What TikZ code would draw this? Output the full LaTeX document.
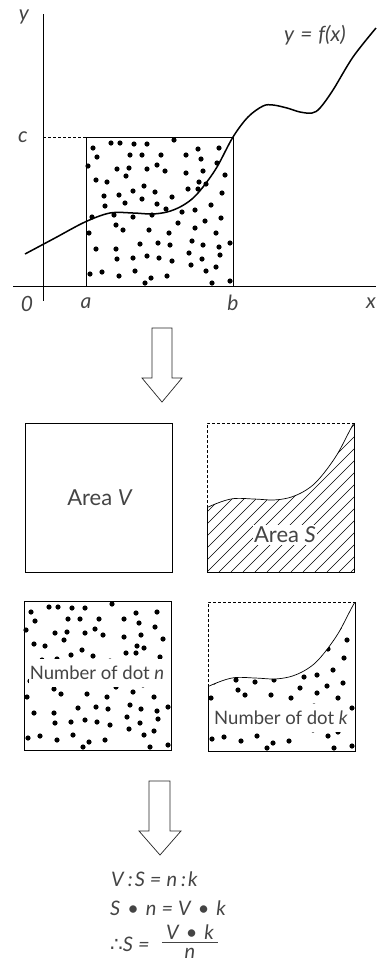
\documentclass[tikz,border=0pt]{standalone}
\usepackage{fontspec}
\setmainfont{Lato}
\newfontfamily\dvfont{DejaVu Sans}
\definecolor{txt}{HTML}{444444}
\newcommand\mycurve{plot[smooth,tension=0.55] coordinates {(25,254) (55,238) (85,222) (110,213) (133,213) (152,214) (167,212) (180,207) (192,199) (203,187) (217,167) (233,137) (248,117) (263,106) (273,105) (287,108) (300,112) (312,113) (320,108) (333,90) (353,57) (376,28)}}
\newcommand\dotlist{(93,148),(111,143),(120,143),(134,144),(147,144),(174,140),(198,149),(219,148),(97,157),(130,155),(142,155),(161,155),(186,155),(201,159),(88,166),(117,169),(129,168),(147,169),(157,165),(165,171),(186,173),(203,171),(217,163),(225,175),(96,180),(107,182),(126,176),(144,186),(199,182),(206,184),(188,189),(133,191),(155,192),(104,196),(119,195),(142,199),(172,197),(198,189),(222,193),(105,206),(125,203),(157,204),(166,209),(182,212),(195,210),(211,205),(92,217),(114,215),(133,217),(152,215),(205,221),(221,218),(116,225),(123,230),(178,223),(149,230),(195,228),(89,233),(169,233),(216,233),(96,249),(116,249),(140,244),(158,243),(170,245),(192,241),(203,245),(219,247),(230,243),(117,259),(133,258),(147,256),(159,258),(172,261),(189,253),(202,259),(220,255),(90,274),(102,272),(119,276),(135,271),(151,278),(167,276),(191,265),(206,271),(216,267),(145,283),(212,283),(230,281)}
\tikzset{
  lbl/.style={font=\fontsize{21}{23}\selectfont\itshape, text=txt, inner sep=0pt},
  boxlbl/.style={font=\fontsize{22}{24}\selectfont, text=txt, fill=white, inner xsep=1pt, inner ysep=5pt},
  dotlbl/.style={font=\fontsize{18.5}{21}\selectfont, text=txt, fill=white, inner xsep=1pt, inner ysep=7pt},
  frm/.style={font=\fontsize{20}{22}\selectfont\itshape, text=txt, inner sep=0pt, anchor=west},
  thinline/.style={line width=0.8pt},
  dashline/.style={line width=0.8pt, dash pattern=on 3pt off 2pt},
  bigarrow/.style={line width=0.7pt, line join=miter, draw=black!85},
  dotstyle/.style={fill=black}
}
\begin{document}
\begin{tikzpicture}[x=1pt,y=-1pt]
\useasboundingbox (0,0) rectangle (376,967);
% ---------- top plot ----------
\draw[thinline] (43,14) -- (43,301);
\draw[thinline] (13,286) -- (376,286);
\draw[dashline] (43,137) -- (86,137);
\draw[thinline] (86,137) rectangle (233,286);
\foreach \p in \dotlist { \fill[dotstyle] \p circle[radius=2.6pt]; }
\draw[line width=1.5pt] \mycurve;
\node[lbl] (ly) at (24,17) {y};
\node[lbl] (lc) at (23,137) {c};
\node[lbl] (l0) at (27,304) {0};
\node[lbl] (la) at (86,303) {a};
\node[lbl] (lb) at (233,303) {b};
\node[lbl] (lx) at (371,303) {x};
\node[lbl] (lf) at (315,35) {y\hspace{6pt}=\hspace{6pt}f(x)};
% ---------- arrow 1 ----------
\draw[bigarrow] (152,328) -- (172,328) -- (172,378) -- (182,378) -- (162,402) -- (142,378) -- (152,378) -- cycle;
% ---------- box 1 ----------
\begin{scope}[shift={(-61,286)}]
\draw[thinline] (86,137) rectangle (233,286);
\end{scope}
\node[boxlbl,fill=none] (areaV) at (100,498) {Area \textit{V}};
% ---------- box 2 ----------
\begin{scope}[shift={(121,286)}]
\begin{scope}
\clip (86,137) rectangle (233,286);
\clip \mycurve -- (376,290) -- (25,290) -- cycle;
\foreach \i in {-156,-144,...,156} { \draw[line width=0.5pt] (86+\i,286) -- (235+\i,137); }
\end{scope}
\begin{scope}
\clip (86,137) rectangle (233,286);
\draw[line width=0.7pt] \mycurve;
\end{scope}
\draw[dashline] (86,222) -- (86,137) -- (233,137);
\draw[thinline] (86,222) -- (86,286) -- (233,286) -- (233,137);
\end{scope}
\node[boxlbl, inner ysep=2pt] (areaS) at (285,535) {Area \textit{S}};
% ---------- box 3 ----------
\begin{scope}[shift={(-62,464)}]
\foreach \p in \dotlist { \fill[dotstyle] \p circle[radius=2.6pt]; }
\draw[thinline] (86,137) rectangle (233,286);
\end{scope}
\node[dotlbl] (dotn) at (97,673) {Number of dot \textit{n}};
% ---------- box 4 ----------
\begin{scope}[shift={(122,465)}]
\begin{scope}
\clip (86,137) rectangle (233,286);
\clip \mycurve -- (376,290) -- (25,290) -- cycle;
\foreach \p in \dotlist { \fill[dotstyle] \p circle[radius=2.6pt]; }
\end{scope}
\begin{scope}
\clip (86,137) rectangle (233,286);
\draw[line width=0.7pt] \mycurve;
\end{scope}
\draw[dashline] (86,222) -- (86,137) -- (233,137);
\draw[thinline] (86,222) -- (86,286) -- (233,286) -- (233,137);
\end{scope}
\node[dotlbl] (dotk) at (281,718) {Number of dot \textit{k}};
% ---------- arrow 2 ----------
\draw[bigarrow] (149,781) -- (170,781) -- (170,831) -- (181,831) -- (160,855) -- (139,831) -- (149,831) -- cycle;
% ---------- formulas ----------
\node[frm] (eq1) at (111,879) {V\hspace{4pt}:\hspace{2pt}S\hspace{5pt}=\hspace{5pt}n\hspace{4pt}:\hspace{2pt}k};
\node[frm] (eq2) at (110,908) {S\hspace{7pt}•\hspace{7pt}n\hspace{5pt}=\hspace{5pt}V\hspace{7pt}•\hspace{7pt}k};
\node[frm] (eq3) at (110,944) {{\dvfont\upshape ∴}S\hspace{5pt}=};
\node[frm, anchor=south, minimum width=56pt] (num) at (190,940) {V\hspace{7pt}•\hspace{7pt}k};
\draw[line width=0.9pt, draw=txt] ([yshift=-2.5pt]num.south west) -- ([yshift=-2.5pt]num.south east);
\node[frm, anchor=north] (den) at (190,948) {n};
\end{tikzpicture}
\end{document}
